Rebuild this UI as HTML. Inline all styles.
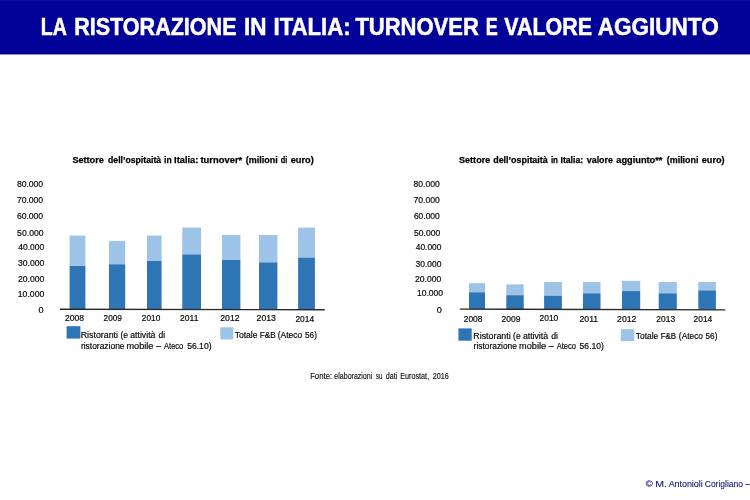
<!DOCTYPE html>
<html lang="it"><head><meta charset="utf-8"><title>La ristorazione in Italia: turnover e valore aggiunto</title>
<style>
html,body{margin:0;padding:0;background:#fff;}
body{width:750px;height:500px;overflow:hidden;}
svg{display:block;font-family:"Liberation Sans",sans-serif;}
</style></head><body>
<svg width="750" height="500" viewBox="0 0 750 500">
<rect width="750" height="500" fill="#ffffff"/>
<rect x="0.00" y="0.00" width="750.00" height="54.25" fill="#020299"/>
<rect x="0.00" y="0.00" width="750.00" height="0.90" fill="#0b0ba4"/>
<rect x="0.00" y="52.90" width="750.00" height="1.35" fill="#01018a"/>
<rect x="69.60" y="235.60" width="15.80" height="30.40" fill="#9dc3e6"/>
<rect x="69.60" y="266.00" width="15.80" height="43.24" fill="#2e75b6"/>
<rect x="109.00" y="241.10" width="16.20" height="23.20" fill="#9dc3e6"/>
<rect x="109.00" y="264.30" width="16.20" height="45.03" fill="#2e75b6"/>
<rect x="147.00" y="235.60" width="14.60" height="25.40" fill="#9dc3e6"/>
<rect x="147.00" y="261.00" width="14.60" height="48.41" fill="#2e75b6"/>
<rect x="182.30" y="227.60" width="18.70" height="26.80" fill="#9dc3e6"/>
<rect x="182.30" y="254.40" width="18.70" height="55.10" fill="#2e75b6"/>
<rect x="222.00" y="235.00" width="18.40" height="25.00" fill="#9dc3e6"/>
<rect x="222.00" y="260.00" width="18.40" height="49.59" fill="#2e75b6"/>
<rect x="259.00" y="235.00" width="18.40" height="27.40" fill="#9dc3e6"/>
<rect x="259.00" y="262.40" width="18.40" height="47.27" fill="#2e75b6"/>
<rect x="298.10" y="227.60" width="16.80" height="30.00" fill="#9dc3e6"/>
<rect x="298.10" y="257.60" width="16.80" height="52.16" fill="#2e75b6"/>
<line x1="60" y1="309.2" x2="324.8" y2="309.8" stroke="#2b2b2b" stroke-width="1.4"/>
<rect x="66.60" y="326.20" width="13.80" height="12.40" fill="#2e75b6"/>
<rect x="220.30" y="327.30" width="12.90" height="12.20" fill="#9dc3e6"/>
<rect x="469.00" y="283.20" width="16.00" height="9.10" fill="#9dc3e6"/>
<rect x="469.00" y="292.30" width="16.00" height="16.85" fill="#2e75b6"/>
<rect x="506.30" y="284.40" width="17.40" height="10.80" fill="#9dc3e6"/>
<rect x="506.30" y="295.20" width="17.40" height="14.07" fill="#2e75b6"/>
<rect x="544.10" y="282.00" width="17.80" height="13.70" fill="#9dc3e6"/>
<rect x="544.10" y="295.70" width="17.80" height="13.68" fill="#2e75b6"/>
<rect x="583.00" y="282.00" width="17.50" height="11.30" fill="#9dc3e6"/>
<rect x="583.00" y="293.30" width="17.50" height="16.20" fill="#2e75b6"/>
<rect x="622.00" y="280.80" width="18.20" height="10.30" fill="#9dc3e6"/>
<rect x="622.00" y="291.10" width="18.20" height="18.52" fill="#2e75b6"/>
<rect x="658.70" y="282.00" width="18.10" height="11.30" fill="#9dc3e6"/>
<rect x="658.70" y="293.30" width="18.10" height="16.43" fill="#2e75b6"/>
<rect x="698.30" y="282.00" width="17.60" height="8.40" fill="#9dc3e6"/>
<rect x="698.30" y="290.40" width="17.60" height="19.44" fill="#2e75b6"/>
<line x1="459.8" y1="309.1" x2="725.4" y2="309.9" stroke="#2b2b2b" stroke-width="1.4"/>
<rect x="458.40" y="328.40" width="13.30" height="12.30" fill="#2e75b6"/>
<rect x="620.80" y="329.20" width="13.40" height="12.00" fill="#9dc3e6"/>
<text x="40.75" y="34.70" font-size="23.1" font-weight="bold" fill="#ffffff" stroke="#ffffff" stroke-width="0.5" textLength="26.06" lengthAdjust="spacingAndGlyphs">LA</text>
<text x="74.19" y="34.70" font-size="23.1" font-weight="bold" fill="#ffffff" stroke="#ffffff" stroke-width="0.5" textLength="162.32" lengthAdjust="spacingAndGlyphs">RISTORAZIONE</text>
<text x="244.08" y="34.70" font-size="23.1" font-weight="bold" fill="#ffffff" stroke="#ffffff" stroke-width="0.5" textLength="22.50" lengthAdjust="spacingAndGlyphs">IN</text>
<text x="273.51" y="34.70" font-size="23.1" font-weight="bold" fill="#ffffff" stroke="#ffffff" stroke-width="0.5" textLength="77.12" lengthAdjust="spacingAndGlyphs">ITALIA:</text>
<text x="355.45" y="34.70" font-size="23.1" font-weight="bold" fill="#ffffff" stroke="#ffffff" stroke-width="0.5" textLength="123.35" lengthAdjust="spacingAndGlyphs">TURNOVER</text>
<text x="485.69" y="34.70" font-size="23.1" font-weight="bold" fill="#ffffff" stroke="#ffffff" stroke-width="0.5" textLength="12.05" lengthAdjust="spacingAndGlyphs">E</text>
<text x="504.25" y="34.70" font-size="23.1" font-weight="bold" fill="#ffffff" stroke="#ffffff" stroke-width="0.5" textLength="87.70" lengthAdjust="spacingAndGlyphs">VALORE</text>
<text x="597.75" y="34.70" font-size="23.1" font-weight="bold" fill="#ffffff" stroke="#ffffff" stroke-width="0.5" textLength="121.01" lengthAdjust="spacingAndGlyphs">AGGIUNTO</text>
<text x="72.40" y="162.50" font-size="9.6" font-weight="bold" fill="#000" stroke="#000" stroke-width="0.25" textLength="31.40" lengthAdjust="spacingAndGlyphs">Settore</text>
<text x="108.05" y="162.50" font-size="9.6" font-weight="bold" fill="#000" stroke="#000" stroke-width="0.25" textLength="53.05" lengthAdjust="spacingAndGlyphs">dell’ospitaità</text>
<text x="164.09" y="162.50" font-size="9.6" font-weight="bold" fill="#000" stroke="#000" stroke-width="0.25" textLength="7.65" lengthAdjust="spacingAndGlyphs">in</text>
<text x="174.08" y="162.50" font-size="9.6" font-weight="bold" fill="#000" stroke="#000" stroke-width="0.25" textLength="24.20" lengthAdjust="spacingAndGlyphs">Italia:</text>
<text x="200.50" y="162.50" font-size="9.6" font-weight="bold" fill="#000" stroke="#000" stroke-width="0.25" textLength="41.70" lengthAdjust="spacingAndGlyphs">turnover*</text>
<text x="245.74" y="162.50" font-size="9.6" font-weight="bold" fill="#000" stroke="#000" stroke-width="0.25" textLength="31.96" lengthAdjust="spacingAndGlyphs">(milioni</text>
<text x="280.73" y="162.50" font-size="9.6" font-weight="bold" fill="#000" stroke="#000" stroke-width="0.25" textLength="6.55" lengthAdjust="spacingAndGlyphs">di</text>
<text x="290.74" y="162.50" font-size="9.6" font-weight="bold" fill="#000" stroke="#000" stroke-width="0.25" textLength="23.01" lengthAdjust="spacingAndGlyphs">euro)</text>
<text x="16.90" y="187.30" font-size="8.2" font-weight="normal" fill="#0a0a0a" stroke="#000" stroke-width="0.18" textLength="26.25" lengthAdjust="spacingAndGlyphs">80.000</text>
<text x="16.90" y="203.10" font-size="8.2" font-weight="normal" fill="#0a0a0a" stroke="#000" stroke-width="0.18" textLength="26.25" lengthAdjust="spacingAndGlyphs">70.000</text>
<text x="16.90" y="218.80" font-size="8.2" font-weight="normal" fill="#0a0a0a" stroke="#000" stroke-width="0.18" textLength="26.25" lengthAdjust="spacingAndGlyphs">60.000</text>
<text x="17.10" y="235.90" font-size="8.2" font-weight="normal" fill="#0a0a0a" stroke="#000" stroke-width="0.18" textLength="26.51" lengthAdjust="spacingAndGlyphs">50.000</text>
<text x="18.30" y="249.90" font-size="8.2" font-weight="normal" fill="#0a0a0a" stroke="#000" stroke-width="0.18" textLength="26.00" lengthAdjust="spacingAndGlyphs">40.000</text>
<text x="18.05" y="266.40" font-size="8.2" font-weight="normal" fill="#0a0a0a" stroke="#000" stroke-width="0.18" textLength="26.25" lengthAdjust="spacingAndGlyphs">30.000</text>
<text x="18.05" y="281.90" font-size="8.2" font-weight="normal" fill="#0a0a0a" stroke="#000" stroke-width="0.18" textLength="26.26" lengthAdjust="spacingAndGlyphs">20.000</text>
<text x="17.79" y="297.10" font-size="8.2" font-weight="normal" fill="#0a0a0a" stroke="#000" stroke-width="0.18" textLength="26.52" lengthAdjust="spacingAndGlyphs">10.000</text>
<text x="38.58" y="313.10" font-size="8.2" font-weight="normal" fill="#0a0a0a" stroke="#000" stroke-width="0.18" textLength="5.04" lengthAdjust="spacingAndGlyphs">0</text>
<text x="65.04" y="320.50" font-size="8.2" font-weight="normal" fill="#0a0a0a" stroke="#000" stroke-width="0.18" textLength="19.06" lengthAdjust="spacingAndGlyphs">2008</text>
<text x="103.59" y="320.50" font-size="8.2" font-weight="normal" fill="#0a0a0a" stroke="#000" stroke-width="0.18" textLength="18.31" lengthAdjust="spacingAndGlyphs">2009</text>
<text x="141.89" y="320.50" font-size="8.2" font-weight="normal" fill="#0a0a0a" stroke="#000" stroke-width="0.18" textLength="18.41" lengthAdjust="spacingAndGlyphs">2010</text>
<text x="180.09" y="320.50" font-size="8.2" font-weight="normal" fill="#0a0a0a" stroke="#000" stroke-width="0.18" textLength="18.33" lengthAdjust="spacingAndGlyphs">2011</text>
<text x="220.24" y="321.40" font-size="8.2" font-weight="normal" fill="#0a0a0a" stroke="#000" stroke-width="0.18" textLength="19.32" lengthAdjust="spacingAndGlyphs">2012</text>
<text x="256.59" y="321.40" font-size="8.2" font-weight="normal" fill="#0a0a0a" stroke="#000" stroke-width="0.18" textLength="19.32" lengthAdjust="spacingAndGlyphs">2013</text>
<text x="295.44" y="322.40" font-size="8.2" font-weight="normal" fill="#0a0a0a" stroke="#000" stroke-width="0.18" textLength="18.67" lengthAdjust="spacingAndGlyphs">2014</text>
<text x="80.69" y="338.00" font-size="8.2" font-weight="normal" fill="#0a0a0a" stroke="#000" stroke-width="0.18" textLength="37.33" lengthAdjust="spacingAndGlyphs">Ristoranti</text>
<text x="120.41" y="338.00" font-size="8.2" font-weight="normal" fill="#0a0a0a" stroke="#000" stroke-width="0.18" textLength="7.57" lengthAdjust="spacingAndGlyphs">(e</text>
<text x="130.25" y="338.00" font-size="8.2" font-weight="normal" fill="#0a0a0a" stroke="#000" stroke-width="0.18" textLength="25.15" lengthAdjust="spacingAndGlyphs">attività</text>
<text x="158.58" y="338.00" font-size="8.2" font-weight="normal" fill="#0a0a0a" stroke="#000" stroke-width="0.18" textLength="6.66" lengthAdjust="spacingAndGlyphs">di</text>
<text x="80.94" y="348.70" font-size="8.2" font-weight="normal" fill="#0a0a0a" stroke="#000" stroke-width="0.18" textLength="43.61" lengthAdjust="spacingAndGlyphs">ristorazione</text>
<text x="126.49" y="348.70" font-size="8.2" font-weight="normal" fill="#0a0a0a" stroke="#000" stroke-width="0.18" textLength="26.97" lengthAdjust="spacingAndGlyphs">mobile</text>
<text x="156.23" y="348.70" font-size="8.2" font-weight="normal" fill="#0a0a0a" stroke="#000" stroke-width="0.18" textLength="4.82" lengthAdjust="spacingAndGlyphs">–</text>
<text x="164.00" y="348.70" font-size="8.2" font-weight="normal" fill="#0a0a0a" stroke="#000" stroke-width="0.18" textLength="19.30" lengthAdjust="spacingAndGlyphs">Ateco</text>
<text x="187.19" y="348.70" font-size="8.2" font-weight="normal" fill="#0a0a0a" stroke="#000" stroke-width="0.18" textLength="24.32" lengthAdjust="spacingAndGlyphs">56.10)</text>
<text x="234.70" y="337.90" font-size="8.2" font-weight="normal" fill="#0a0a0a" stroke="#000" stroke-width="0.18" textLength="22.86" lengthAdjust="spacingAndGlyphs">Totale</text>
<text x="259.82" y="337.90" font-size="8.2" font-weight="normal" fill="#0a0a0a" stroke="#000" stroke-width="0.18" textLength="15.90" lengthAdjust="spacingAndGlyphs">F&amp;B</text>
<text x="277.74" y="337.90" font-size="8.2" font-weight="normal" fill="#0a0a0a" stroke="#000" stroke-width="0.18" textLength="24.51" lengthAdjust="spacingAndGlyphs">(Ateco</text>
<text x="305.03" y="337.90" font-size="8.2" font-weight="normal" fill="#0a0a0a" stroke="#000" stroke-width="0.18" textLength="11.85" lengthAdjust="spacingAndGlyphs">56)</text>
<text x="459.00" y="163.00" font-size="9.6" font-weight="bold" fill="#000" stroke="#000" stroke-width="0.25" textLength="31.25" lengthAdjust="spacingAndGlyphs">Settore</text>
<text x="493.20" y="163.00" font-size="9.6" font-weight="bold" fill="#000" stroke="#000" stroke-width="0.25" textLength="54.55" lengthAdjust="spacingAndGlyphs">dell’ospitaità</text>
<text x="550.89" y="163.00" font-size="9.6" font-weight="bold" fill="#000" stroke="#000" stroke-width="0.25" textLength="7.18" lengthAdjust="spacingAndGlyphs">in</text>
<text x="560.47" y="163.00" font-size="9.6" font-weight="bold" fill="#000" stroke="#000" stroke-width="0.25" textLength="22.71" lengthAdjust="spacingAndGlyphs">Italia:</text>
<text x="586.75" y="163.00" font-size="9.6" font-weight="bold" fill="#000" stroke="#000" stroke-width="0.25" textLength="26.20" lengthAdjust="spacingAndGlyphs">valore</text>
<text x="616.35" y="163.00" font-size="9.6" font-weight="bold" fill="#000" stroke="#000" stroke-width="0.25" textLength="46.05" lengthAdjust="spacingAndGlyphs">aggiunto**</text>
<text x="666.74" y="163.00" font-size="9.6" font-weight="bold" fill="#000" stroke="#000" stroke-width="0.25" textLength="31.77" lengthAdjust="spacingAndGlyphs">(milioni</text>
<text x="701.74" y="163.00" font-size="9.6" font-weight="bold" fill="#000" stroke="#000" stroke-width="0.25" textLength="22.81" lengthAdjust="spacingAndGlyphs">euro)</text>
<text x="413.60" y="187.30" font-size="8.2" font-weight="normal" fill="#0a0a0a" stroke="#000" stroke-width="0.18" textLength="26.16" lengthAdjust="spacingAndGlyphs">80.000</text>
<text x="413.59" y="202.80" font-size="8.2" font-weight="normal" fill="#0a0a0a" stroke="#000" stroke-width="0.18" textLength="26.16" lengthAdjust="spacingAndGlyphs">70.000</text>
<text x="413.90" y="218.80" font-size="8.2" font-weight="normal" fill="#0a0a0a" stroke="#000" stroke-width="0.18" textLength="25.90" lengthAdjust="spacingAndGlyphs">60.000</text>
<text x="414.10" y="235.90" font-size="8.2" font-weight="normal" fill="#0a0a0a" stroke="#000" stroke-width="0.18" textLength="26.16" lengthAdjust="spacingAndGlyphs">50.000</text>
<text x="415.80" y="250.10" font-size="8.2" font-weight="normal" fill="#0a0a0a" stroke="#000" stroke-width="0.18" textLength="25.65" lengthAdjust="spacingAndGlyphs">40.000</text>
<text x="415.55" y="266.70" font-size="8.2" font-weight="normal" fill="#0a0a0a" stroke="#000" stroke-width="0.18" textLength="25.90" lengthAdjust="spacingAndGlyphs">30.000</text>
<text x="415.09" y="282.10" font-size="8.2" font-weight="normal" fill="#0a0a0a" stroke="#000" stroke-width="0.18" textLength="26.16" lengthAdjust="spacingAndGlyphs">20.000</text>
<text x="416.94" y="296.00" font-size="8.2" font-weight="normal" fill="#0a0a0a" stroke="#000" stroke-width="0.18" textLength="26.16" lengthAdjust="spacingAndGlyphs">10.000</text>
<text x="436.88" y="313.10" font-size="8.2" font-weight="normal" fill="#0a0a0a" stroke="#000" stroke-width="0.18" textLength="5.04" lengthAdjust="spacingAndGlyphs">0</text>
<text x="463.74" y="322.00" font-size="8.2" font-weight="normal" fill="#0a0a0a" stroke="#000" stroke-width="0.18" textLength="18.66" lengthAdjust="spacingAndGlyphs">2008</text>
<text x="501.54" y="322.00" font-size="8.2" font-weight="normal" fill="#0a0a0a" stroke="#000" stroke-width="0.18" textLength="18.92" lengthAdjust="spacingAndGlyphs">2009</text>
<text x="539.59" y="321.10" font-size="8.2" font-weight="normal" fill="#0a0a0a" stroke="#000" stroke-width="0.18" textLength="18.67" lengthAdjust="spacingAndGlyphs">2010</text>
<text x="579.54" y="322.20" font-size="8.2" font-weight="normal" fill="#0a0a0a" stroke="#000" stroke-width="0.18" textLength="18.67" lengthAdjust="spacingAndGlyphs">2011</text>
<text x="617.09" y="322.40" font-size="8.2" font-weight="normal" fill="#0a0a0a" stroke="#000" stroke-width="0.18" textLength="19.33" lengthAdjust="spacingAndGlyphs">2012</text>
<text x="656.39" y="322.40" font-size="8.2" font-weight="normal" fill="#0a0a0a" stroke="#000" stroke-width="0.18" textLength="18.71" lengthAdjust="spacingAndGlyphs">2013</text>
<text x="693.59" y="321.50" font-size="8.2" font-weight="normal" fill="#0a0a0a" stroke="#000" stroke-width="0.18" textLength="18.71" lengthAdjust="spacingAndGlyphs">2014</text>
<text x="473.33" y="339.00" font-size="8.2" font-weight="normal" fill="#0a0a0a" stroke="#000" stroke-width="0.18" textLength="37.33" lengthAdjust="spacingAndGlyphs">Ristoranti</text>
<text x="513.07" y="339.00" font-size="8.2" font-weight="normal" fill="#0a0a0a" stroke="#000" stroke-width="0.18" textLength="7.54" lengthAdjust="spacingAndGlyphs">(e</text>
<text x="522.90" y="339.00" font-size="8.2" font-weight="normal" fill="#0a0a0a" stroke="#000" stroke-width="0.18" textLength="25.15" lengthAdjust="spacingAndGlyphs">attività</text>
<text x="551.22" y="339.00" font-size="8.2" font-weight="normal" fill="#0a0a0a" stroke="#000" stroke-width="0.18" textLength="6.69" lengthAdjust="spacingAndGlyphs">di</text>
<text x="473.60" y="349.30" font-size="8.2" font-weight="normal" fill="#0a0a0a" stroke="#000" stroke-width="0.18" textLength="43.36" lengthAdjust="spacingAndGlyphs">ristorazione</text>
<text x="519.14" y="349.30" font-size="8.2" font-weight="normal" fill="#0a0a0a" stroke="#000" stroke-width="0.18" textLength="26.97" lengthAdjust="spacingAndGlyphs">mobile</text>
<text x="548.89" y="349.30" font-size="8.2" font-weight="normal" fill="#0a0a0a" stroke="#000" stroke-width="0.18" textLength="4.82" lengthAdjust="spacingAndGlyphs">–</text>
<text x="556.65" y="349.30" font-size="8.2" font-weight="normal" fill="#0a0a0a" stroke="#000" stroke-width="0.18" textLength="19.30" lengthAdjust="spacingAndGlyphs">Ateco</text>
<text x="579.60" y="349.30" font-size="8.2" font-weight="normal" fill="#0a0a0a" stroke="#000" stroke-width="0.18" textLength="24.31" lengthAdjust="spacingAndGlyphs">56.10)</text>
<text x="635.85" y="338.80" font-size="8.2" font-weight="normal" fill="#0a0a0a" stroke="#000" stroke-width="0.18" textLength="22.41" lengthAdjust="spacingAndGlyphs">Totale</text>
<text x="660.77" y="338.80" font-size="8.2" font-weight="normal" fill="#0a0a0a" stroke="#000" stroke-width="0.18" textLength="15.35" lengthAdjust="spacingAndGlyphs">F&amp;B</text>
<text x="678.89" y="338.80" font-size="8.2" font-weight="normal" fill="#0a0a0a" stroke="#000" stroke-width="0.18" textLength="24.07" lengthAdjust="spacingAndGlyphs">(Ateco</text>
<text x="705.53" y="338.80" font-size="8.2" font-weight="normal" fill="#0a0a0a" stroke="#000" stroke-width="0.18" textLength="11.85" lengthAdjust="spacingAndGlyphs">56)</text>
<text x="310.13" y="379.20" font-size="8.2" font-weight="normal" fill="#111" stroke="#111" stroke-width="0.15" textLength="22.05" lengthAdjust="spacingAndGlyphs">Fonte:</text>
<text x="334.35" y="379.20" font-size="8.2" font-weight="normal" fill="#111" stroke="#111" stroke-width="0.15" textLength="37.90" lengthAdjust="spacingAndGlyphs">elaborazioni</text>
<text x="376.00" y="379.20" font-size="8.2" font-weight="normal" fill="#111" stroke="#111" stroke-width="0.15" textLength="6.26" lengthAdjust="spacingAndGlyphs">su</text>
<text x="385.74" y="379.20" font-size="8.2" font-weight="normal" fill="#111" stroke="#111" stroke-width="0.15" textLength="11.52" lengthAdjust="spacingAndGlyphs">dati</text>
<text x="400.14" y="379.20" font-size="8.2" font-weight="normal" fill="#111" stroke="#111" stroke-width="0.15" textLength="29.04" lengthAdjust="spacingAndGlyphs">Eurostat,</text>
<text x="432.74" y="379.20" font-size="8.2" font-weight="normal" fill="#111" stroke="#111" stroke-width="0.15" textLength="16.06" lengthAdjust="spacingAndGlyphs">2016</text>
<text x="645.84" y="486.70" font-size="9.8" font-weight="normal" fill="#1c1c80" stroke="#1c1c80" stroke-width="0.15" textLength="7.01" lengthAdjust="spacingAndGlyphs">©</text>
<text x="655.29" y="486.70" font-size="9.8" font-weight="normal" fill="#1c1c80" stroke="#1c1c80" stroke-width="0.15" textLength="11.72" lengthAdjust="spacingAndGlyphs">M.</text>
<text x="668.65" y="486.70" font-size="9.8" font-weight="normal" fill="#1c1c80" stroke="#1c1c80" stroke-width="0.15" textLength="34.06" lengthAdjust="spacingAndGlyphs">Antonioli</text>
<text x="704.75" y="486.70" font-size="9.8" font-weight="normal" fill="#1c1c80" stroke="#1c1c80" stroke-width="0.15" textLength="38.31" lengthAdjust="spacingAndGlyphs">Corigliano</text>
<text x="745.45" y="486.70" font-size="9.8" font-weight="normal" fill="#1c1c80" stroke="#1c1c80" stroke-width="0.15" textLength="6.70" lengthAdjust="spacingAndGlyphs">–</text>
</svg>
</body></html>
